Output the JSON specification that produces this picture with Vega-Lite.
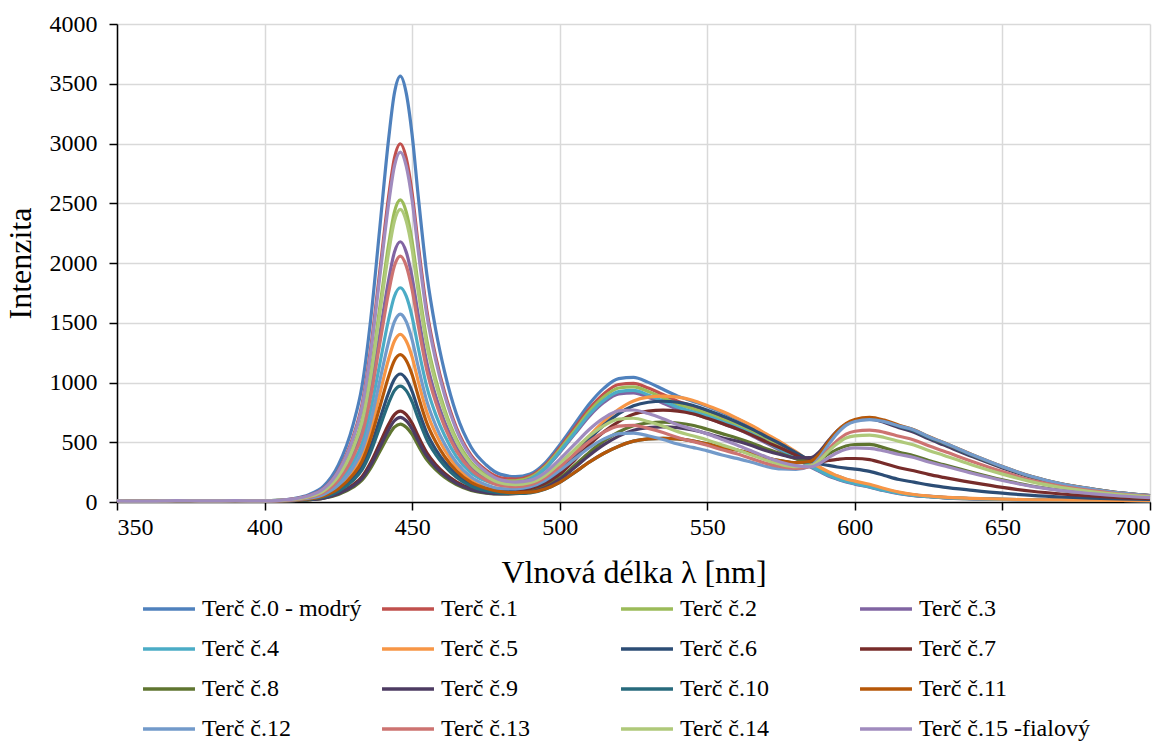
{
  "$schema": "https://vega.github.io/schema/vega-lite/v6.json",
  "width": 1033,
  "height": 478,
  "autosize": {"type": "none"},
  "padding": {"left": 117, "top": 24, "right": 23, "bottom": 246},
  "background": "white",
  "datasets": {
    "spec": [
      {"w":350,"s0":10,"s1":10,"s2":10,"s3":10,"s4":10,"s5":10,"s6":10,"s7":10,"s8":10,"s9":10,"s10":10,"s11":10,"s12":10,"s13":10,"s14":10,"s15":10},
      {"w":360,"s0":7,"s1":7,"s2":7,"s3":7,"s4":7,"s5":7,"s6":7,"s7":7,"s8":7,"s9":7,"s10":7,"s11":7,"s12":7,"s13":7,"s14":7,"s15":7},
      {"w":370,"s0":12,"s1":12,"s2":12,"s3":12,"s4":12,"s5":12,"s6":12,"s7":12,"s8":12,"s9":12,"s10":12,"s11":12,"s12":12,"s13":12,"s14":12,"s15":12},
      {"w":380,"s0":9,"s1":9,"s2":9,"s3":9,"s4":9,"s5":9,"s6":9,"s7":9,"s8":9,"s9":9,"s10":9,"s11":9,"s12":9,"s13":9,"s14":9,"s15":9},
      {"w":390,"s0":11,"s1":11,"s2":11,"s3":11,"s4":11,"s5":11,"s6":11,"s7":11,"s8":11,"s9":11,"s10":11,"s11":11,"s12":11,"s13":11,"s14":11,"s15":11},
      {"w":400,"s0":9,"s1":9,"s2":9,"s3":9,"s4":9,"s5":9,"s6":9,"s7":9,"s8":9,"s9":9,"s10":9,"s11":9,"s12":9,"s13":9,"s14":9,"s15":9},
      {"w":405,"s0":15,"s1":14,"s2":13,"s3":12,"s4":12,"s5":11,"s6":10,"s7":10,"s8":9,"s9":9,"s10":10,"s11":10,"s12":11,"s13":12,"s14":13,"s15":14},
      {"w":410,"s0":29,"s1":26,"s2":23,"s3":21,"s4":19,"s5":16,"s6":14,"s7":13,"s8":12,"s9":12,"s10":14,"s11":15,"s12":17,"s13":20,"s14":23,"s15":26},
      {"w":415,"s0":61,"s1":53,"s2":46,"s3":41,"s4":35,"s5":29,"s6":24,"s7":19,"s8":18,"s9":19,"s10":22,"s11":26,"s12":31,"s13":39,"s14":45,"s15":52},
      {"w":420,"s0":132,"s1":113,"s2":96,"s3":84,"s4":70,"s5":57,"s6":45,"s7":34,"s8":31,"s9":33,"s10":42,"s11":51,"s12":63,"s13":80,"s14":93,"s15":110},
      {"w":425,"s0":310,"s1":262,"s2":222,"s3":192,"s4":160,"s5":127,"s6":98,"s7":72,"s8":63,"s9":68,"s10":90,"s11":112,"s12":141,"s13":182,"s14":215,"s15":256},
      {"w":430,"s0":648,"s1":546,"s2":462,"s3":399,"s4":329,"s5":259,"s6":199,"s7":144,"s8":124,"s9":134,"s10":181,"s11":229,"s12":290,"s13":377,"s14":447,"s15":534},
      {"w":433,"s0":968,"s1":815,"s2":688,"s3":594,"s4":490,"s5":385,"s6":295,"s7":211,"s8":182,"s9":197,"s10":268,"s11":339,"s12":431,"s13":562,"s14":667,"s15":796},
      {"w":436,"s0":1537,"s1":1294,"s2":1092,"s3":941,"s4":776,"s5":608,"s6":465,"s7":332,"s8":285,"s9":309,"s10":422,"s11":535,"s12":681,"s13":890,"s14":1057,"s15":1264},
      {"w":439,"s0":2284,"s1":1922,"s2":1621,"s3":1397,"s4":1150,"s5":901,"s6":688,"s7":490,"s8":420,"s9":456,"s10":624,"s11":792,"s12":1010,"s13":1320,"s14":1570,"s15":1877},
      {"w":442,"s0":3031,"s1":2550,"s2":2150,"s3":1853,"s4":1525,"s5":1194,"s6":912,"s7":648,"s8":555,"s9":603,"s10":826,"s11":1049,"s12":1338,"s13":1751,"s14":2082,"s15":2490},
      {"w":444,"s0":3422,"s1":2878,"s2":2427,"s3":2091,"s4":1722,"s5":1347,"s6":1028,"s7":731,"s8":626,"s9":680,"s10":932,"s11":1184,"s12":1510,"s13":1976,"s14":2350,"s15":2811},
      {"w":446,"s0":3564,"s1":2998,"s2":2528,"s3":2178,"s4":1793,"s5":1403,"s6":1071,"s7":761,"s8":652,"s9":708,"s10":970,"s11":1233,"s12":1573,"s13":2058,"s14":2448,"s15":2928},
      {"w":448,"s0":3422,"s1":2878,"s2":2427,"s3":2091,"s4":1722,"s5":1347,"s6":1028,"s7":731,"s8":626,"s9":680,"s10":932,"s11":1184,"s12":1510,"s13":1976,"s14":2350,"s15":2811},
      {"w":450,"s0":3071,"s1":2584,"s2":2180,"s3":1879,"s4":1548,"s5":1212,"s6":925,"s7":659,"s8":565,"s9":612,"s10":837,"s11":1064,"s12":1357,"s13":1774,"s14":2110,"s15":2523},
      {"w":452,"s0":2574,"s1":2167,"s2":1828,"s3":1575,"s4":1299,"s5":1016,"s6":777,"s7":554,"s8":475,"s9":515,"s10":704,"s11":893,"s12":1138,"s13":1488,"s14":1769,"s15":2115},
      {"w":455,"s0":1901,"s1":1601,"s2":1352,"s3":1165,"s4":961,"s5":752,"s6":576,"s7":412,"s8":353,"s9":383,"s10":521,"s11":660,"s12":842,"s13":1100,"s14":1307,"s15":1562},
      {"w":458,"s0":1440,"s1":1214,"s2":1026,"s3":885,"s4":731,"s5":572,"s6":439,"s7":314,"s8":271,"s9":292,"s10":397,"s11":502,"s12":640,"s13":834,"s14":991,"s15":1184},
      {"w":461,"s0":1089,"s1":918,"s2":777,"s3":671,"s4":556,"s5":435,"s6":335,"s7":241,"s8":207,"s9":224,"s10":302,"s11":381,"s12":485,"s13":631,"s14":749,"s15":894},
      {"w":465,"s0":736,"s1":622,"s2":527,"s3":457,"s4":380,"s5":298,"s6":232,"s7":169,"s8":146,"s9":156,"s10":207,"s11":260,"s12":330,"s13":428,"s14":507,"s15":604},
      {"w":470,"s0":458,"s1":389,"s2":331,"s3":288,"s4":243,"s5":191,"s6":151,"s7":112,"s8":97,"s9":103,"s10":132,"s11":164,"s12":209,"s13":268,"s14":316,"s15":375},
      {"w":475,"s0":312,"s1":267,"s2":231,"s3":203,"s4":175,"s5":138,"s6":111,"s7":85,"s8":74,"s9":78,"s10":95,"s11":115,"s12":145,"s13":184,"s14":216,"s15":254},
      {"w":480,"s0":231,"s1":203,"s2":179,"s3":161,"s4":144,"s5":111,"s6":94,"s7":76,"s8":67,"s9":68,"s10":75,"s11":87,"s12":113,"s13":138,"s14":160,"s15":185},
      {"w":485,"s0":213,"s1":192,"s2":176,"s3":161,"s4":152,"s5":107,"s6":95,"s7":81,"s8":71,"s9":70,"s10":71,"s11":78,"s12":110,"s13":129,"s14":146,"s15":167},
      {"w":490,"s0":235,"s1":218,"s2":205,"s3":191,"s4":188,"s5":120,"s6":110,"s7":97,"s8":85,"s9":82,"s10":77,"s11":82,"s12":127,"s13":145,"s14":161,"s15":181},
      {"w":495,"s0":326,"s1":307,"s2":294,"s3":277,"s4":278,"s5":171,"s6":161,"s7":145,"s8":126,"s9":120,"s10":107,"s11":109,"s12":179,"s13":202,"s14":221,"s15":245},
      {"w":500,"s0":478,"s1":454,"s2":438,"s3":414,"s4":421,"s5":266,"s6":252,"s7":230,"s8":200,"s9":189,"s10":164,"s11":165,"s12":264,"s13":295,"s14":324,"s15":357},
      {"w":505,"s0":649,"s1":617,"s2":597,"s3":566,"s4":576,"s5":405,"s6":384,"s7":349,"s8":305,"s9":287,"s10":246,"s11":247,"s12":359,"s13":400,"s14":438,"s15":482},
      {"w":510,"s0":820,"s1":780,"s2":756,"s3":717,"s4":732,"s5":551,"s6":524,"s7":477,"s8":415,"s9":390,"s10":333,"s11":333,"s12":454,"s13":505,"s14":552,"s15":607},
      {"w":515,"s0":953,"s1":907,"s2":880,"s3":834,"s4":852,"s5":676,"s6":644,"s7":587,"s8":511,"s9":480,"s10":408,"s11":408,"s12":528,"s13":586,"s14":640,"s15":704},
      {"w":520,"s0":1032,"s1":983,"s2":954,"s3":905,"s4":924,"s5":776,"s6":739,"s7":673,"s8":586,"s9":551,"s10":467,"s11":467,"s12":572,"s13":635,"s14":694,"s15":763},
      {"w":525,"s0":1043,"s1":993,"s2":963,"s3":914,"s4":934,"s5":846,"s6":805,"s7":734,"s8":638,"s9":600,"s10":509,"s11":509,"s12":577,"s13":642,"s14":701,"s15":770},
      {"w":530,"s0":1001,"s1":953,"s2":925,"s3":877,"s4":896,"s5":877,"s6":835,"s7":760,"s8":661,"s9":622,"s10":528,"s11":528,"s12":554,"s13":616,"s14":673,"s15":740},
      {"w":535,"s0":943,"s1":899,"s2":872,"s3":827,"s4":845,"s5":886,"s6":843,"s7":768,"s8":668,"s9":628,"s10":533,"s11":533,"s12":523,"s13":581,"s14":635,"s15":697},
      {"w":540,"s0":886,"s1":844,"s2":819,"s3":777,"s4":793,"s5":877,"s6":835,"s7":760,"s8":661,"s9":622,"s10":528,"s11":528,"s12":485,"s13":539,"s14":589,"s15":647},
      {"w":545,"s0":844,"s1":804,"s2":780,"s3":740,"s4":756,"s5":851,"s6":810,"s7":738,"s8":642,"s9":603,"s10":512,"s11":512,"s12":457,"s13":507,"s14":554,"s15":609},
      {"w":550,"s0":802,"s1":764,"s2":741,"s3":703,"s4":719,"s5":807,"s6":768,"s7":700,"s8":609,"s9":572,"s10":486,"s11":486,"s12":428,"s13":475,"s14":519,"s15":570},
      {"w":555,"s0":750,"s1":714,"s2":693,"s3":658,"s4":672,"s5":759,"s6":722,"s7":658,"s8":572,"s9":538,"s10":457,"s11":457,"s12":393,"s13":437,"s14":477,"s15":524},
      {"w":560,"s0":698,"s1":665,"s2":645,"s3":612,"s4":625,"s5":702,"s6":670,"s7":613,"s8":536,"s9":510,"s10":435,"s11":435,"s12":365,"s13":403,"s14":438,"s15":477},
      {"w":565,"s0":635,"s1":605,"s2":587,"s3":557,"s4":569,"s5":640,"s6":612,"s7":562,"s8":494,"s9":472,"s10":404,"s11":405,"s12":332,"s13":363,"s14":393,"s15":427},
      {"w":570,"s0":562,"s1":535,"s2":519,"s3":493,"s4":504,"s5":570,"s6":547,"s7":503,"s8":445,"s9":429,"s10":368,"s11":369,"s12":298,"s13":323,"s14":349,"s15":376},
      {"w":575,"s0":489,"s1":466,"s2":452,"s3":429,"s4":438,"s5":500,"s6":484,"s7":450,"s8":404,"s9":396,"s10":345,"s11":345,"s12":276,"s13":295,"s14":314,"s15":333},
      {"w":580,"s0":416,"s1":396,"s2":384,"s3":365,"s4":373,"s5":421,"s6":414,"s7":392,"s8":362,"s9":370,"s10":328,"s11":329,"s12":273,"s13":282,"s14":296,"s15":305},
      {"w":585,"s0":332,"s1":316,"s2":307,"s3":292,"s4":298,"s5":337,"s6":346,"s7":343,"s8":337,"s9":371,"s10":339,"s11":341,"s12":300,"s13":297,"s14":302,"s15":295},
      {"w":588,"s0":290,"s1":277,"s2":269,"s3":255,"s4":260,"s5":293,"s6":320,"s7":336,"s8":356,"s9":422,"s10":399,"s11":402,"s12":370,"s13":351,"s14":348,"s15":322},
      {"w":591,"s0":248,"s1":237,"s2":230,"s3":218,"s4":223,"s5":254,"s6":306,"s7":347,"s8":400,"s9":512,"s10":497,"s11":502,"s12":477,"s13":437,"s14":422,"s15":370},
      {"w":594,"s0":217,"s1":207,"s2":201,"s3":191,"s4":195,"s5":219,"s6":293,"s7":357,"s8":440,"s9":594,"s10":585,"s11":593,"s12":572,"s13":512,"s14":487,"s15":412},
      {"w":597,"s0":191,"s1":182,"s2":177,"s3":168,"s4":172,"s5":192,"s6":283,"s7":364,"s8":469,"s9":651,"s10":649,"s11":657,"s12":641,"s13":568,"s14":535,"s15":442},
      {"w":600,"s0":170,"s1":162,"s2":158,"s3":150,"s4":153,"s5":175,"s6":275,"s7":364,"s8":481,"s9":681,"s10":681,"s11":691,"s12":674,"s13":592,"s14":554,"s15":453},
      {"w":605,"s0":141,"s1":134,"s2":131,"s3":124,"s4":127,"s5":148,"s6":256,"s7":354,"s8":482,"s9":694,"s10":699,"s11":709,"s12":690,"s13":601,"s14":560,"s15":449},
      {"w":610,"s0":106,"s1":102,"s2":99,"s3":94,"s4":96,"s5":113,"s6":222,"s7":322,"s8":453,"s9":666,"s10":675,"s11":685,"s12":673,"s13":583,"s14":540,"s15":427},
      {"w":615,"s0":79,"s1":76,"s2":74,"s3":70,"s4":72,"s5":83,"s6":188,"s7":287,"s8":416,"s9":622,"s10":633,"s11":642,"s12":636,"s13":550,"s14":507,"s15":398},
      {"w":620,"s0":60,"s1":58,"s2":56,"s3":54,"s4":55,"s5":63,"s6":166,"s7":261,"s8":387,"s9":584,"s10":596,"s11":605,"s12":603,"s13":519,"s14":477,"s15":373},
      {"w":625,"s0":49,"s1":47,"s2":46,"s3":44,"s4":44,"s5":50,"s6":143,"s7":231,"s8":347,"s9":528,"s10":539,"s11":548,"s12":546,"s13":470,"s14":431,"s15":335},
      {"w":630,"s0":39,"s1":38,"s2":37,"s3":35,"s4":36,"s5":40,"s6":125,"s7":206,"s8":313,"s9":478,"s10":491,"s11":498,"s12":498,"s13":427,"s14":392,"s15":303},
      {"w":640,"s0":29,"s1":28,"s2":27,"s3":26,"s4":27,"s5":30,"s6":98,"s7":162,"s8":247,"s9":378,"s10":387,"s11":393,"s12":393,"s13":337,"s14":308,"s15":238},
      {"w":650,"s0":23,"s1":22,"s2":22,"s3":21,"s4":21,"s5":23,"s6":74,"s7":122,"s8":186,"s9":285,"s10":292,"s11":296,"s12":296,"s13":254,"s14":233,"s15":180},
      {"w":660,"s0":18,"s1":18,"s2":18,"s3":17,"s4":17,"s5":19,"s6":55,"s7":90,"s8":134,"s9":205,"s10":210,"s11":213,"s12":213,"s13":182,"s14":168,"s15":131},
      {"w":670,"s0":16,"s1":16,"s2":16,"s3":15,"s4":15,"s5":17,"s6":42,"s7":67,"s8":98,"s9":147,"s10":150,"s11":153,"s12":153,"s13":131,"s14":121,"s15":95},
      {"w":680,"s0":14,"s1":14,"s2":14,"s3":13,"s4":14,"s5":15,"s6":33,"s7":50,"s8":72,"s9":107,"s10":110,"s11":111,"s12":111,"s13":96,"s14":88,"s15":70},
      {"w":690,"s0":13,"s1":13,"s2":13,"s3":13,"s4":13,"s5":14,"s6":26,"s7":37,"s8":52,"s9":74,"s10":76,"s11":77,"s12":76,"s13":66,"s14":62,"s15":50},
      {"w":700,"s0":12,"s1":12,"s2":12,"s3":12,"s4":12,"s5":13,"s6":21,"s7":29,"s8":38,"s9":53,"s10":54,"s11":54,"s12":54,"s13":48,"s14":44,"s15":36}
    ],
    "labels": [
      {"key":"s0","label":"Terč č.0 - modrý"},
      {"key":"s1","label":"Terč č.1"},
      {"key":"s2","label":"Terč č.2"},
      {"key":"s3","label":"Terč č.3"},
      {"key":"s4","label":"Terč č.4"},
      {"key":"s5","label":"Terč č.5"},
      {"key":"s6","label":"Terč č.6"},
      {"key":"s7","label":"Terč č.7"},
      {"key":"s8","label":"Terč č.8"},
      {"key":"s9","label":"Terč č.9"},
      {"key":"s10","label":"Terč č.10"},
      {"key":"s11","label":"Terč č.11"},
      {"key":"s12","label":"Terč č.12"},
      {"key":"s13","label":"Terč č.13"},
      {"key":"s14","label":"Terč č.14"},
      {"key":"s15","label":"Terč č.15 -fialový"}
    ]
  },
  "data": {"name": "spec"},
  "transform": [
    {"fold": ["s0","s1","s2","s3","s4","s5","s6","s7","s8","s9","s10","s11","s12","s13","s14","s15"], "as": ["key","value"]},
    {"lookup": "key", "from": {"data": {"name": "labels"}, "key": "key", "fields": ["label"]}}
  ],
  "mark": {"type": "line", "strokeWidth": 3.2, "interpolate": "monotone"},
  "encoding": {
    "x": {
      "field": "w", "type": "quantitative",
      "scale": {"domain": [350, 700], "nice": false, "zero": false},
      "axis": {"values": [350,400,450,500,550,600,650,700], "format": "d", "title": "Vlnová délka λ [nm]", "titlePadding": 18, "labelPadding": 5}
    },
    "y": {
      "field": "value", "type": "quantitative",
      "scale": {"domain": [0, 4000], "nice": false},
      "axis": {"values": [0,500,1000,1500,2000,2500,3000,3500,4000], "format": "d", "title": "Intenzita", "titlePadding": 12, "labelPadding": 12}
    },
    "color": {
      "field": "label", "type": "nominal",
      "scale": {
        "domain": ["Terč č.0 - modrý","Terč č.1","Terč č.2","Terč č.3","Terč č.4","Terč č.5","Terč č.6","Terč č.7","Terč č.8","Terč č.9","Terč č.10","Terč č.11","Terč č.12","Terč č.13","Terč č.14","Terč č.15 -fialový"],
        "range": ["#4F81BD","#C0504D","#9BBB59","#8064A2","#4BACC6","#F79646","#2C4D75","#772C2A","#5F7530","#4D3B62","#276A7C","#B65708","#729ACA","#CD7371","#AFC97A","#A08BBE"]
      },
      "legend": {
        "orient": "none",
        "legendX": 24,
        "legendY": 557,
        "direction": "horizontal",
        "columns": 4,
        "gridAlign": "all",
        "columnPadding": 2,
        "rowPadding": -8,
        "title": null,
        "symbolType": "stroke",
        "symbolSize": 2700,
        "symbolStrokeWidth": 3.5,
        "labelFont": "Liberation Serif",
        "labelFontSize": 24,
        "labelFontWeight": "normal",
        "labelColor": "black",
        "labelOffset": 5,
        "labelLimit": 400
      }
    }
  },
  "config": {
    "font": "Liberation Serif",
    "view": {"stroke": null},
    "axis": {
      "domainColor": "black",
      "domainWidth": 1.5,
      "tickColor": "black",
      "tickWidth": 1.5,
      "tickSize": 8,
      "labelFont": "Liberation Serif",
      "labelFontSize": 24,
      "labelColor": "black",
      "titleFont": "Liberation Serif",
      "titleFontSize": 32,
      "titleFontWeight": "normal",
      "titleColor": "black",
      "gridColor": "#D9D9D9",
      "gridWidth": 1.5
    },
    "legend": {"labelFont": "Liberation Serif"}
  }
}
